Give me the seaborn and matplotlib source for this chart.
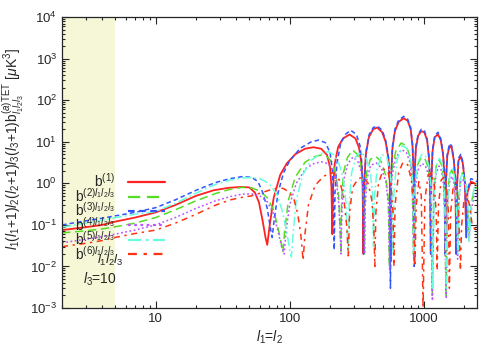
import numpy as np
import pandas as pd
import matplotlib
matplotlib.use("Agg")
import matplotlib.pyplot as plt
import matplotlib.ticker as mticker
import seaborn as sns

# Reduced bispectrum curves (l1 = l2, l3 = 10)
b1 = [(2, .075), (3, .088), (4, .10), (5, .12), (7, .15), (10, .20), (14, .30), (20, .50), (27, .68),
      (35, .78), (43, .82), (50, .80), (55, .60), (59, .35), (63, .12), (66, .05), (68, .033), (71, .10),
      (76, .45), (85, 1.6), (95, 3.0), (110, 5.0), (130, 6.8), (150, 7.4), (172, 6.8), (190, 4.8),
      (200, 2.5), (205, .8), (208, .06), (211, .8), (217, 3.0), (230, 7.5), (250, 12), (280, 15),
      (310, 12), (330, 7), (343, 3), (350, 1), (355, .02), (360, 1), (370, 5), (390, 13), (420, 20),
      (450, 22), (490, 17), (520, 10), (545, 4), (558, 1.2), (566, .013), (572, 1.5), (585, 7), (610, 18),
      (650, 30), (710, 37), (760, 32), (800, 20), (825, 8), (840, 2), (850, .03), (858, 2), (875, 7),
      (910, 14), (960, 18), (1010, 17), (1060, 11), (1095, 4), (1115, 1), (1130, .02), (1140, 1),
      (1165, 6), (1210, 13), (1280, 15), (1340, 11), (1395, 5), (1430, 1.5), (1450, .02), (1465, 1),
      (1500, 4.5), (1560, 8), (1620, 7), (1680, 3.5), (1725, 1), (1750, .02), (1770, .8), (1820, 3.5),
      (1890, 4.5), (1960, 3), (2030, 1), (2080, .05), (2120, .6), (2250, 1.1), (2400, 1.0), (2500, .9)]

b2 = [(2, .064), (3, .072), (4, .08), (5, .09), (7, .11), (10, .15), (14, .23), (20, .38), (28, .57),
      (36, .72), (44, .80), (52, .78), (60, .65), (68, .45), (75, .25), (81, .10), (86, .04), (89, .022),
      (92, .08), (98, .4), (110, 1.4), (130, 3.2), (150, 4.3), (170, 4.8), (190, 4.4), (208, 3.2),
      (222, 1.6), (232, .5), (238, .08), (241, .02), (244, .4), (252, 1.8), (270, 4.2), (295, 6.3),
      (320, 5), (340, 2.8), (352, 1), (358, .2), (361, .02), (365, .4), (375, 1.8), (400, 3.8), (440, 4.4),
      (480, 3.4), (520, 1.6), (545, .4), (555, .01), (563, .4), (580, 2.2), (620, 6), (680, 9.4),
      (740, 8), (790, 4.5), (820, 1.5), (840, .02), (860, 1), (900, 2.8), (960, 4.2), (1020, 4),
      (1080, 2.4), (1130, .8), (1160, .002), (1190, .8), (1240, 2.6), (1300, 3.7), (1360, 2.8),
      (1420, 1), (1470, .002), (1510, .6), (1560, 1.6), (1620, 2.1), (1680, 1.5), (1740, .5),
      (1790, .02), (1830, .5), (1890, 1.6), (1960, 1.8), (2040, 1.2), (2120, .4), (2180, .05),
      (2250, .3), (2380, .7), (2500, .8)]

b3 = [(2, .10), (3, .125), (4, .145), (5, .165), (7, .20), (10, .26), (14, .40), (20, .68), (28, 1.05),
      (36, 1.3), (44, 1.45), (52, 1.4), (58, 1.1), (63, .6), (68, .25), (72, .08), (74, .05), (77, .15),
      (82, .6), (90, 1.8), (100, 3.5), (120, 7), (145, 10), (165, 11), (185, 9.5), (200, 5.5), (208, 2.2),
      (212, .6), (215, .025), (218, .6), (225, 3), (240, 9), (260, 15), (285, 19), (315, 15), (335, 8),
      (346, 3), (352, .8), (356, .02), (362, 1.3), (372, 6), (392, 15), (420, 22), (450, 24), (490, 19),
      (520, 11), (545, 4.5), (558, 1.3), (565, .003), (572, 1.6), (585, 8), (610, 20), (650, 33),
      (710, 41), (760, 35), (800, 22), (825, 9), (840, 2), (850, .01), (858, 2.2), (875, 8), (910, 15),
      (960, 20), (1010, 19), (1060, 12), (1095, 4.5), (1115, 1.1), (1130, .02), (1140, 1.1),
      (1165, 6.5), (1210, 14), (1280, 17), (1340, 12), (1395, 5.5), (1430, 1.6), (1450, .02),
      (1465, 1.1), (1500, 5), (1560, 9), (1620, 8), (1680, 4), (1725, 1.1), (1750, .02), (1770, .9),
      (1820, 4), (1890, 5), (1960, 3.3), (2030, 1.1), (2080, .05), (2120, .7), (2250, 1.3),
      (2400, 1.2), (2500, 1.1)]

b4 = [(2, .037), (3, .045), (4, .052), (5, .06), (7, .075), (10, .10), (14, .15), (20, .25), (28, .38),
      (36, .48), (44, .55), (52, .56), (60, .50), (68, .36), (75, .20), (81, .08), (87, .03), (91, .02),
      (94, .07), (100, .3), (112, 1.0), (132, 2.3), (152, 3.0), (172, 3.3), (192, 3.0), (210, 2.1),
      (224, 1.0), (233, .3), (239, .05), (242, .02), (246, .3), (255, 1.3), (272, 3), (297, 4.3),
      (322, 3.4), (342, 1.9), (353, .7), (359, .15), (362, .02), (367, .3), (378, 1.3), (402, 2.7),
      (442, 3.1), (482, 2.4), (522, 1.1), (546, .3), (557, .008), (565, .3), (582, 1.6), (622, 4.2),
      (682, 6.5), (742, 5.6), (792, 3.1), (822, 1), (842, .015), (862, .7), (902, 2), (962, 3),
      (1022, 2.8), (1082, 1.7), (1132, .55), (1162, .0015), (1192, .55), (1242, 1.8), (1302, 2.6),
      (1362, 2), (1422, .7), (1472, .0018), (1512, .4), (1562, 1.1), (1622, 1.5), (1682, 1.05),
      (1742, .35), (1792, .015), (1832, .35), (1892, 1.1), (1962, 1.25), (2042, .85), (2122, .3),
      (2182, .04), (2252, .2), (2380, .5), (2500, .55)]

b5 = [(2, .088), (3, .11), (4, .13), (5, .15), (7, .18), (10, .21), (14, .33), (20, .58), (28, .95),
      (36, 1.2), (44, 1.35), (52, 1.38), (60, 1.3), (70, 1.0), (80, .55), (88, .22), (95, .07),
      (100, .025), (103, .017), (106, .06), (112, .4), (125, 1.6), (145, 3.6), (170, 5.2), (195, 5.8),
      (215, 4.8), (235, 2.8), (252, 1.2), (263, .35), (270, .05), (274, .02), (278, .3), (290, 1.8),
      (315, 4.8), (345, 5.5), (375, 3.8), (400, 1.8), (415, .6), (422, .03), (430, .5), (450, 2.4),
      (490, 5), (530, 4.2), (560, 2), (580, .6), (590, .02), (600, .6), (630, 3.5), (690, 8), (750, 7),
      (800, 3.5), (830, 1), (848, .02), (865, 1), (905, 3.3), (970, 5), (1030, 4.6), (1090, 2.7),
      (1140, .8), (1170, .003), (1200, .8), (1250, 2.8), (1310, 4), (1370, 3), (1430, 1), (1480, .003),
      (1520, .6), (1570, 1.7), (1630, 2.2), (1690, 1.6), (1750, .5), (1800, .02), (1840, .5),
      (1900, 1.5), (1970, 1.6), (2050, 1.1), (2130, .35), (2190, .04), (2260, .3), (2380, .8),
      (2500, 1.0)]

b6 = [(2, .03), (3, .036), (4, .042), (5, .05), (7, .062), (10, .075), (14, .11), (20, .18), (28, .30),
      (36, .40), (44, .46), (52, .50), (62, .60), (72, .70), (82, .78), (90, .75), (100, .60), (108, .40),
      (115, .18), (121, .06), (126, .014), (130, .06), (138, .3), (155, .9), (180, 1.5), (210, 1.8),
      (235, 1.2), (252, .5), (266, .1), (274, .018), (280, .2), (295, .8), (325, 1.3), (355, 1.4),
      (385, 1.0), (410, .4), (425, .08), (432, .01), (440, .2), (460, 1.0), (500, 2.2), (540, 2),
      (570, .9), (590, .2), (600, .01), (612, .3), (650, 1.8), (700, 3.2), (760, 2.8), (810, 1.2),
      (840, .3), (860, .01), (880, .3), (920, 1.1), (960, .5), (990, .001), (1020, .4), (1080, 1.6),
      (1140, 1.8), (1200, .9), (1240, .2), (1260, .008), (1290, .3), (1350, 1.2), (1420, 1.4),
      (1480, .8), (1530, .2), (1555, .003), (1590, .2), (1660, .8), (1730, .9), (1800, .45),
      (1850, .05), (1880, .008), (1920, .1), (2000, .4), (2100, .5), (2200, .3), (2300, .1),
      (2400, .08), (2500, .1)]

# first label padded so every label has the same width (text stays left aligned)
labels = [r"b$^{(1)}\hspace{1.6}$", r"b$^{(2)l_1l_2l_3}$", r"b$^{(3)l_1l_2l_3}$",
          r"b$^{(4)l_1l_2l_3}$", r"b$^{(5)l_1l_2l_3}$", r"b$^{(6)l_1l_2l_3}$"]
colors = ["#ff2222", "#55dd22", "#3355ff", "#bb55ff", "#66ffdd", "#ff3311"]
styles = ["-", (0, (5.5, 3)), (0, (3, 2)), (0, (1.2, 1.6)), (0, (6, 2, 1.2, 2)), (0, (4, 3, 1.5, 3))]
widths = [1.3, 1.1, 1.1, 1.1, 1.1, 1.1]

sns.set_style("ticks")
plt.rcParams["font.family"] = ["Liberation Sans", "DejaVu Sans"]
plt.rcParams["mathtext.fontset"] = "custom"
plt.rcParams["mathtext.rm"] = "Liberation Sans"
plt.rcParams["mathtext.it"] = "Liberation Sans:italic"
plt.rcParams["mathtext.bf"] = "Liberation Sans:bold"

fig = plt.figure(figsize=(5, 3.5), dpi=100)
ax = fig.add_axes([0.124, 0.12, 0.83, 0.831])
ax.set_xscale("log")
ax.set_yscale("log")

ax.axvspan(2, 5, color="#f6f7d7", lw=0, zorder=0)

for data, lab, col, ls, w in zip([b1, b2, b3, b4, b5, b6], labels, colors, styles, widths):
    df = pd.DataFrame(data, columns=["l", "b"])
    sns.lineplot(data=df, x="l", y="b", ax=ax, color=col, linestyle=ls, lw=w, label=lab)

ax.set_xlim(2, 2500)
ax.set_ylim(1e-3, 1e4)
ax.xaxis.set_major_formatter(mticker.FuncFormatter(lambda v, p: f"{v:g}"))
ax.xaxis.set_minor_formatter(mticker.NullFormatter())

ax.tick_params(which="both", direction="in", top=True, right=True, labelsize=9.5, width=0.8)
ax.tick_params(which="major", length=5)
ax.tick_params(which="minor", length=2.5)
for s in ax.spines.values():
    s.set_linewidth(0.9)

ax.set_xlabel(r"$l_1$=$l_2$", fontsize=10, labelpad=3)
ax.set_ylabel(r"$l_1(l_1$+1$)l_2(l_2$+1$)l_3(l_3$+1$)$b$^{(a)\mathrm{TET}}_{l_1l_2l_3}$ [$\mu$K$^3$]",
              fontsize=10)
ax.yaxis.set_label_coords(-0.086, 0.546)

leg = ax.legend(loc="upper left", bbox_to_anchor=(0.031, 0.467), frameon=False, markerfirst=False,
                handlelength=2.7, handletextpad=0.95, labelspacing=-0.25, borderpad=0, borderaxespad=0,
                fontsize=10)
for hl in leg.get_lines():
    hl.set_linewidth(1.6)

ax.text(0.084, 0.152, r"$l_1l_2l_3$", transform=ax.transAxes, fontsize=9.5)
ax.text(0.05, 0.085, r"$l_3$=10", transform=ax.transAxes, fontsize=10)

fig.savefig("out.png", dpi=100)
